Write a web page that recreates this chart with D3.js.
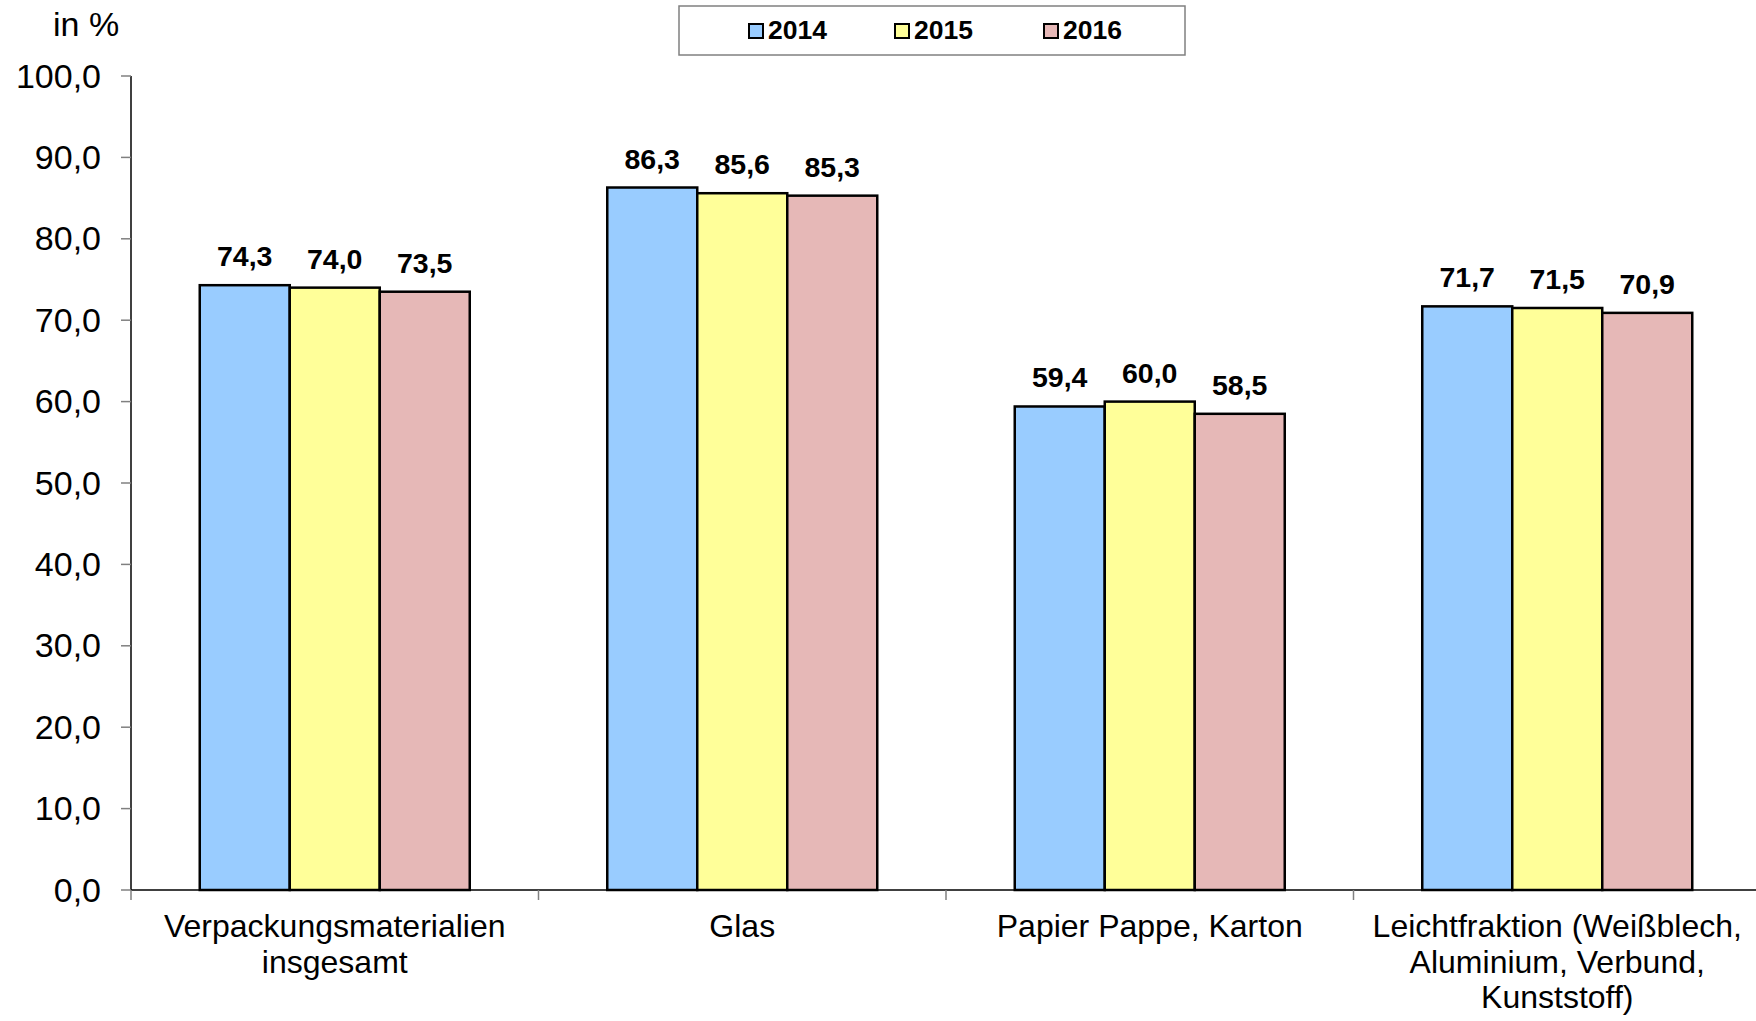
<!DOCTYPE html>
<html>
<head>
<meta charset="utf-8">
<script src="https://cdn.jsdelivr.net/npm/d3@7/dist/d3.min.js"></script>
<style>
html,body{margin:0;padding:0;background:#fff;}
svg{display:block;font-family:"Liberation Sans",Arial,sans-serif;}
</style>
</head>
<body>
<svg id="chart" width="1756" height="1021"></svg>
<script>
const categories = [
  ["Verpackungsmaterialien","insgesamt"],
  ["Glas"],
  ["Papier Pappe, Karton"],
  ["Leichtfraktion (Weißblech,","Aluminium, Verbund,","Kunststoff)"]
];
const seriesNames = ["2014","2015","2016"];
const values2014 = [74.3, 86.3, 59.4, 71.7];
const values2015 = [74.0, 85.6, 60.0, 71.5];
const values2016 = [73.5, 85.3, 58.5, 70.9];
const yTicks = [0,10,20,30,40,50,60,70,80,90,100];
const colors = ["#99CCFF","#FFFF99","#E6B8B7"];

(function(){
const series = [values2014, values2015, values2016];
const svg = d3.select("#chart");
const pLeft = 131, pRight = 1761, pTop = 76, pBottom = 890;

const x0 = d3.scaleBand().domain(d3.range(categories.length)).range([pLeft, pRight]).paddingInner(0).paddingOuter(0);
const barW = 90;
const groupW = barW * 3;
const x1 = d3.scaleBand().domain(d3.range(3)).range([0, groupW]);
const y = d3.scaleLinear().domain([0,100]).range([pBottom, pTop]);

const fmt = v => v.toFixed(1).replace(".", ",");

// y axis
svg.append("line").attr("x1",pLeft).attr("x2",pLeft).attr("y1",pTop).attr("y2",pBottom)
  .attr("stroke","#000").attr("stroke-width",1.5);
const yt = svg.append("g");
yt.selectAll("line").data(yTicks).join("line")
  .attr("x1",pLeft-10).attr("x2",pLeft).attr("y1",d=>y(d)).attr("y2",d=>y(d))
  .attr("stroke","#808080").attr("stroke-width",1.5);
yt.selectAll("text").data(yTicks).join("text")
  .attr("x",101).attr("y",d=>y(d)+11.5).attr("text-anchor","end")
  .attr("font-size",34).attr("fill","#000").text(d=>fmt(d));

svg.append("text").attr("x",53).attr("y",36).attr("font-size",34).text("in %");

// bars
categories.forEach((c,i)=>{
  const gx = x0(i) + (x0.bandwidth()-groupW)/2;
  series.forEach((s,j)=>{
    svg.append("rect")
      .attr("x", gx + x1(j)).attr("y", y(s[i]))
      .attr("width", barW).attr("height", y(0)-y(s[i]))
      .attr("fill", colors[j]).attr("stroke","#000").attr("stroke-width",2.5);
  });
});
categories.forEach((c,i)=>{
  const gx = x0(i) + (x0.bandwidth()-groupW)/2;
  series.forEach((s,j)=>{
    svg.append("text")
      .attr("x", gx + x1(j) + barW/2).attr("y", y(s[i]) - 19)
      .attr("text-anchor","middle").attr("font-size",28.5).attr("font-weight","bold")
      .text(fmt(s[i]));
  });
});

// x axis
svg.append("line").attr("x1",pLeft).attr("x2",1756).attr("y1",pBottom).attr("y2",pBottom)
  .attr("stroke","#000").attr("stroke-width",1.5);
const bounds = d3.range(categories.length+1).map(i => i < categories.length ? x0(i) : pRight);
svg.selectAll(".xt").data(bounds).join("line")
  .attr("x1",d=>d).attr("x2",d=>d).attr("y1",pBottom).attr("y2",pBottom+10)
  .attr("stroke","#808080").attr("stroke-width",1.5);
categories.forEach((c,i)=>{
  const t = svg.append("text").attr("text-anchor","middle").attr("font-size",32);
  c.forEach((line,k)=>{
    t.append("tspan").attr("x", x0(i)+x0.bandwidth()/2).attr("y", 937 + k*35.5).text(line);
  });
});

// legend
svg.append("rect").attr("x",679).attr("y",6).attr("width",506).attr("height",49)
  .attr("fill","#fff").attr("stroke","#808080").attr("stroke-width",1.5);
const legX = [749, 895, 1044];
seriesNames.forEach((n,j)=>{
  svg.append("rect").attr("x",legX[j]).attr("y",24).attr("width",14).attr("height",14)
    .attr("fill",colors[j]).attr("stroke","#000").attr("stroke-width",2);
  svg.append("text").attr("x",legX[j]+19).attr("y",39).attr("font-size",26.5)
    .attr("font-weight","bold").text(n);
});
})();
</script>
</body>
</html>
